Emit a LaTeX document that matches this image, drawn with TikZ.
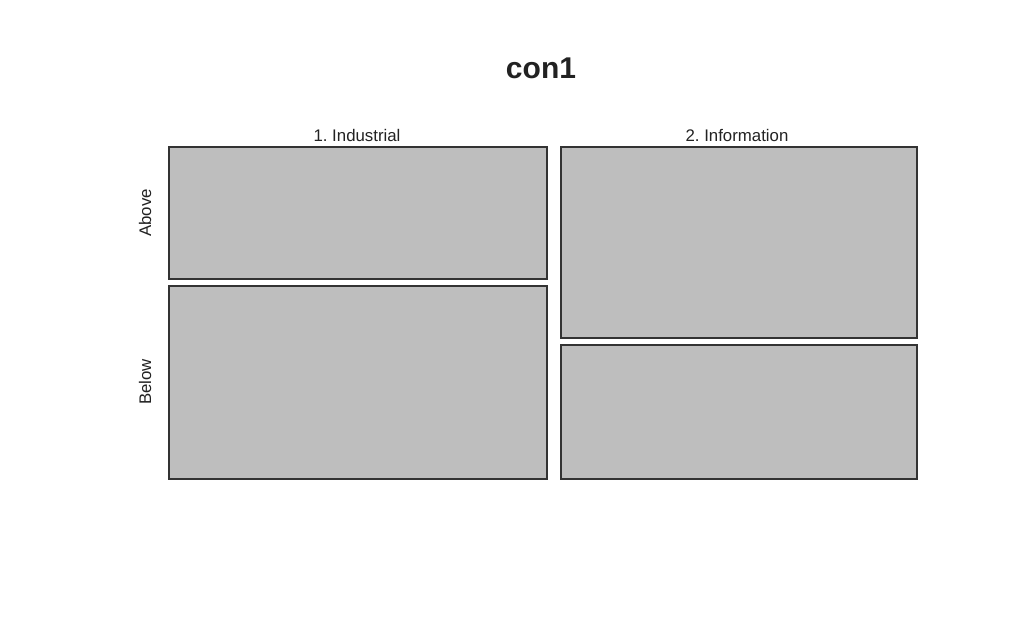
\documentclass[tikz,border=0pt]{standalone}
\usepackage{fontspec}
\setmainfont{Liberation Sans}
\frenchspacing
\definecolor{tilegray}{HTML}{BEBEBE}
\definecolor{tileline}{HTML}{333333}
\definecolor{labelink}{HTML}{222222}
\tikzset{
  tile/.style={draw=tileline, fill=tilegray, line width=1.6pt},
  axislabel/.style={text=labelink, font=\fontsize{16.8}{18}\selectfont, inner sep=0pt}
}
\begin{document}
\begin{tikzpicture}[x=1pt,y=-1pt]
            \useasboundingbox[fill=white] (0,0) rectangle (1024,641);
            \node[text=labelink, font=\bfseries\fontsize{30}{34}\selectfont, inner sep=0pt] (title) at (541,68) {con1};
            \draw[tile] (169,147) rectangle (547,279);
            \draw[tile] (169,286) rectangle (547,479);
            \draw[tile] (561,147) rectangle (917,338);
            \draw[tile] (561,345) rectangle (917,479);
            \node[axislabel] (industrial) at (357,135) {1. Industrial};
            \node[axislabel] (information) at (737,135) {2. Information};
            \node[axislabel, rotate=90] (above) at (145,213) {Above};
            \node[axislabel, rotate=90] (below) at (145,382) {Below};
        \end{tikzpicture}
\end{document}
